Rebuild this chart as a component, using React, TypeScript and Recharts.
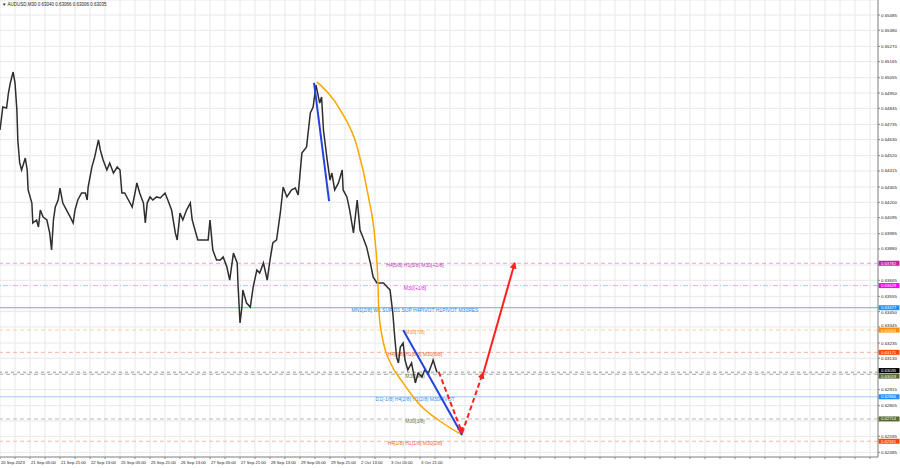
import {
    ComposedChart,
    Line,
    XAxis,
    YAxis,
    CartesianGrid,
    ReferenceLine,
} from "recharts";

// AUDUSD M30, bar index on x (bar 0 = 20 Sep 13:00), close on y
const priceBars = [
    0, 3, 7, 9, 11, 14, 16, 18, 19, 21,
    23, 27, 29, 30, 34, 35, 39, 41, 43, 46,
    50, 53, 55, 57, 59, 62, 64, 67, 71, 75,
    78, 80, 83, 87, 91, 93, 94, 98, 101, 105,
    107, 110, 114, 117, 121, 125, 128, 130, 133, 137,
    141, 144, 146, 149, 153, 155, 157, 160, 163, 167,
    171, 176, 179, 183, 187, 189, 192, 195, 199, 203,
    205, 208, 211, 217, 222, 224, 227, 231, 235, 238,
    242, 245, 249, 253, 254, 256, 258, 259, 263, 267,
    270, 274, 277, 281, 285, 288, 291, 295, 299, 302,
    306, 311, 315, 318, 322, 327, 331, 334, 337, 341,
    343, 345, 349, 352, 354, 357, 361, 365, 366, 370,
    373, 377, 381, 384, 387, 391, 395, 398, 402, 405,
    409, 413, 416, 419, 421, 423, 425, 427, 430, 432,
    435, 439, 443, 446, 450, 453, 457, 461, 462, 466,
];

const priceCloses = [
    0.64696, 0.64854, 0.64847, 0.6495, 0.65019, 0.65094, 0.65019, 0.64833, 0.64628, 0.6447,
    0.64422, 0.64504, 0.64422, 0.64285, 0.64195, 0.64058, 0.64079, 0.64031, 0.64147, 0.64099,
    0.64079, 0.6399, 0.63873, 0.64079, 0.64168, 0.64216, 0.64298, 0.64195, 0.64147, 0.64099,
    0.64058, 0.64147, 0.64216, 0.64264, 0.64264, 0.64216, 0.64305, 0.64442, 0.64511, 0.64628,
    0.64559, 0.6449, 0.64422, 0.6447, 0.64401, 0.64442, 0.64422, 0.64264, 0.64264, 0.64216,
    0.64168, 0.64264, 0.64333, 0.64264, 0.64195, 0.64058, 0.64195, 0.64237, 0.64216, 0.64237,
    0.6423, 0.64264, 0.64216, 0.64147, 0.6399, 0.63942, 0.64127, 0.64079, 0.64147, 0.64195,
    0.64079, 0.6401, 0.63942, 0.63942, 0.63942, 0.64079, 0.63873, 0.63804, 0.63804, 0.63825,
    0.63756, 0.63667, 0.63852, 0.63784, 0.63619, 0.63372, 0.63482, 0.63599, 0.63509, 0.63482,
    0.63619, 0.63736, 0.63715, 0.63784, 0.63667, 0.63804, 0.63921, 0.63942, 0.64127, 0.64305,
    0.64237, 0.64285, 0.64298, 0.6425, 0.64538, 0.6458, 0.64813, 0.64854, 0.65005, 0.64881,
    0.64923, 0.64696, 0.6449, 0.64353, 0.64401, 0.64285, 0.64333, 0.64422, 0.64285, 0.64237,
    0.64147, 0.6399, 0.64216, 0.6401, 0.63962, 0.63894, 0.63784, 0.63688, 0.63647, 0.63647,
    0.63647, 0.63619, 0.63599, 0.63441, 0.63276, 0.63139, 0.63098, 0.63208, 0.63235, 0.63118,
    0.6305, 0.63098, 0.62961, 0.63029, 0.63002, 0.6305, 0.63029, 0.63098, 0.63118, 0.63035,
];

// drawn objects
const arcBars = [338, 363, 381, 393, 400, 403, 404, 409, 416, 430, 448, 469, 493];
const arcPrices = [0.65026, 0.64833, 0.6458, 0.64237, 0.63942, 0.63667, 0.63461, 0.63235, 0.63105, 0.62961, 0.6281, 0.627, 0.62604];
const trend1Bars = [335, 351];
const trend1Prices = [0.65019, 0.64209];
const trend2Bars = [430, 493];
const trend2Prices = [0.63324, 0.62604];
const dropBars = [468, 493];
const dropPrices = [0.63036, 0.62618];
const bounceBars = [493, 515];
const bouncePrices = [0.62618, 0.63029];
const rallyBars = [515, 549];
const rallyPrices = [0.63016, 0.63784];

// levels
const levelPrices = [0.63782, 0.63629, 0.63477, 0.63324, 0.63171, 0.63035, 0.63019, 0.62866, 0.62714, 0.62561];
const levelNames = [
    "H4[5/8] H1[5/8] M30[+2/8]",
    "M30[+1/8]",
    "MN1[2/8] W1 SUP D1 SUP H4PIVOT H1PIVOT M30RES",
    "M30[7/8]",
    "H4[6/8] H1[6/8] M30[6/8]",
    "",
    "M30[4/8]",
    "D1[-1/8] H4[2/8] H1[2/8] M30PIVOT",
    "M30[3/8]",
    "H4[1/8] H1[1/8] M30[2/8]",
];
const levelStyles = [
    { box: "#c8209c", line: "#e6a6dc", text: "#c038b8", dash: "4 3", shift: 0 },
    { box: "#ff00ff", line: "#f4a8f4", text: "#e020e0", dash: "5 2 1 2", shift: 0 },
    { box: "#1e90ff", line: "#6aaaf0", text: "#2a86e8", dash: undefined, shift: 0 },
    { box: "#ff8c00", line: "#f8d2a8", text: "#f09030", dash: "4 3", shift: 0 },
    { box: "#ff4500", line: "#f6b4a4", text: "#f06030", dash: "4 3", shift: 0 },
    { box: "#000000", line: "#9a9a9a", text: "#000", dash: "3 3", shift: -1.6 },
    { box: "#556b2f", line: "#bcbcb0", text: "#6b7b3f", dash: "4 3", shift: 1.6 },
    { box: "#1e90ff", line: "#9ec8f4", text: "#3090f0", dash: undefined, shift: 0 },
    { box: "#556b2f", line: "#bcbcb0", text: "#6b7b3f", dash: "4 3", shift: 0 },
    { box: "#ff4500", line: "#f6b8a8", text: "#f06030", dash: "4 3", shift: 0 },
];

const priceTicks = [
    0.62485, 0.62595, 0.627, 0.62805, 0.62915, 0.63025, 0.6313, 0.63235, 0.63345, 0.6345,
    0.63555, 0.63665, 0.6377, 0.6388, 0.63985, 0.64095, 0.642, 0.64305, 0.64415, 0.6452,
    0.6463, 0.64735, 0.64845, 0.6495, 0.65055, 0.65165, 0.6527, 0.6538, 0.65485,
];
const timeLabels = [
    "20 Sep 2023", "21 Sep 05:00", "21 Sep 21:00", "22 Sep 13:00", "25 Sep 05:00",
    "25 Sep 21:00", "26 Sep 13:00", "27 Sep 05:00", "27 Sep 21:00", "28 Sep 13:00",
    "29 Sep 05:00", "29 Sep 21:00", "2 Oct 13:00", "3 Oct 05:00", "3 Oct 21:00",
];
const BARS_PER_LABEL = 32;
const X_MAX = 936.5;
const Y_MIN = 0.62453;
const Y_MAX = 0.65588;
const PLOT_H = 457;
const PX_PER_PRICE = PLOT_H / (Y_MAX - Y_MIN);
const BOX_H = 5;
const LABEL_X = 415;
const FONT = "'Liberation Sans', Arial, sans-serif";

const gridTicks = Array.from({ length: 59 }, (_, i) => i * (BARS_PER_LABEL / 2));

const toSeries = (bars: number[], prices: number[]) =>
    bars.map((bar, i) => ({ bar, price: prices[i] }));

const priceData = toSeries(priceBars, priceCloses);

const TimeTick = (props: any) => {
    const { x, y, payload } = props;
    const v = payload.value;
    const label = v % BARS_PER_LABEL === 0 ? timeLabels[v / BARS_PER_LABEL] : undefined;
    if (!label) return <g />;
    return (
        <text x={x + 1} y={y + 3} fontSize={4.2} fill="#222" fontFamily={FONT} textAnchor="start">
            {label}
        </text>
    );
};

// price labels: hidden when a level box covers them, nudged away when a box sits close by
const PriceTick = (props: any) => {
    const { x, y, payload } = props;
    const v: number = payload.value;
    let dy = 0;
    for (let i = 0; i < levelPrices.length; i++) {
        // >0: the box sits above this label
        const d = (levelPrices[i] - v) * PX_PER_PRICE - levelStyles[i].shift;
        const dist = Math.abs(d);
        if (dist < 2.5) return <g />;
        const need = BOX_H / 2 + 2.4;
        if (dist < need) dy = d > 0 ? need - dist : dist - need;
    }
    return (
        <text x={x} y={y + dy + 1.5} fontSize={4.4} fill="#222" fontFamily={FONT} textAnchor="start">
            {v.toFixed(5)}
        </text>
    );
};

const levelLabel = (i: number) => (props: any) => {
    const vb = props.viewBox || {};
    const y = vb.y;
    const right = vb.x + vb.width;
    const st = levelStyles[i];
    const by = y + st.shift;
    return (
        <g>
            {levelNames[i] && (
                <text x={LABEL_X} y={y + 4} textAnchor="middle" fontSize={5} fill={st.text} fontFamily={FONT}>
                    {levelNames[i]}
                </text>
            )}
            <rect x={right + 0.5} y={by - BOX_H / 2} width={21} height={BOX_H} fill={st.box} />
            <text x={right + 3} y={by + 1.5} fontSize={4.2} fill="#fff" fontFamily={FONT}>
                {levelPrices[i].toFixed(5)}
            </text>
        </g>
    );
};

export default function App() {
    return (
        <div style={{ position: "absolute", left: 0, top: 0, width: 900, height: 468, background: "#fff" }}>
            <ComposedChart
                width={900}
                height={468}
                data={priceData}
                margin={{ top: 0, right: 0, left: 0, bottom: 0 }}
            >
                <defs>
                    <marker id="arrowRed" viewBox="0 0 10 10" refX="8" refY="5" markerWidth="3.5" markerHeight="3.5" orient="auto">
                        <path d="M0,0 L10,5 L0,10 z" fill="#ff2020" />
                    </marker>
                </defs>
                <CartesianGrid stroke="#e8e8e8" />
                <XAxis
                    dataKey="bar"
                    type="number"
                    domain={[0, X_MAX]}
                    allowDataOverflow
                    ticks={gridTicks}
                    interval={0}
                    height={11}
                    tick={<TimeTick />}
                    tickSize={2}
                    tickLine={{ stroke: "#888" }}
                    axisLine={{ stroke: "#888" }}
                />
                <YAxis
                    orientation="right"
                    type="number"
                    domain={[Y_MIN, Y_MAX]}
                    allowDataOverflow
                    ticks={priceTicks}
                    interval={0}
                    width={22}
                    tickSize={2}
                    tickMargin={1}
                    tick={<PriceTick />}
                    tickLine={{ stroke: "#888" }}
                    axisLine={{ stroke: "#888" }}
                />
                {levelPrices.map((p, i) => (
                    <ReferenceLine
                        key={i}
                        y={p}
                        stroke={levelStyles[i].line}
                        strokeWidth={1}
                        strokeDasharray={levelStyles[i].dash}
                        label={levelLabel(i)}
                    />
                ))}
                <Line
                    dataKey="price"
                    stroke="#2e2e2e"
                    strokeWidth={1.5}
                    dot={false}
                    activeDot={false}
                    type="linear"
                    isAnimationActive={false}
                />
                <Line
                    data={toSeries(arcBars, arcPrices)}
                    dataKey="price"
                    stroke="#ffa500"
                    strokeWidth={1.5}
                    dot={false}
                    activeDot={false}
                    type="monotone"
                    isAnimationActive={false}
                />
                <Line
                    data={toSeries(trend1Bars, trend1Prices)}
                    dataKey="price"
                    stroke="#2443e0"
                    strokeWidth={2}
                    dot={false}
                    activeDot={false}
                    isAnimationActive={false}
                />
                <Line
                    data={toSeries(trend2Bars, trend2Prices)}
                    dataKey="price"
                    stroke="#2443e0"
                    strokeWidth={2}
                    dot={false}
                    activeDot={false}
                    isAnimationActive={false}
                />
                <Line
                    data={toSeries(dropBars, dropPrices)}
                    dataKey="price"
                    stroke="#ff2020"
                    strokeWidth={2}
                    strokeDasharray="5 3"
                    markerEnd="url(#arrowRed)"
                    dot={false}
                    activeDot={false}
                    isAnimationActive={false}
                />
                <Line
                    data={toSeries(bounceBars, bouncePrices)}
                    dataKey="price"
                    stroke="#ff2020"
                    strokeWidth={2}
                    strokeDasharray="5 3"
                    markerEnd="url(#arrowRed)"
                    dot={false}
                    activeDot={false}
                    isAnimationActive={false}
                />
                <Line
                    data={toSeries(rallyBars, rallyPrices)}
                    dataKey="price"
                    stroke="#ff2020"
                    strokeWidth={2}
                    markerEnd="url(#arrowRed)"
                    dot={false}
                    activeDot={false}
                    isAnimationActive={false}
                />
                <text x={2} y={6} fontSize={4.5} fill="#222" fontFamily={FONT}>
                    ▼ AUDUSD,M30  0.63040 0.63066 0.63006 0.63035
                </text>
            </ComposedChart>
        </div>
    );
}
